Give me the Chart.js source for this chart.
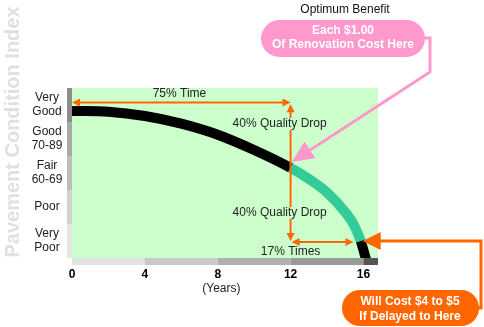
<!DOCTYPE html>
<html>
<head>
<meta charset="utf-8">
<script src="https://cdn.jsdelivr.net/npm/chart.js@4"></script>
<style>
  html, body { margin: 0; padding: 0; background: #fff; }
  #wrap { width: 484px; height: 327px; position: relative; }
</style>
</head>
<body>
<div id="wrap"><canvas id="pciChart" width="484" height="327"></canvas></div>
<script>
// pavement deterioration curve (age in years vs condition index)
var years = [0, 2, 4, 6, 8, 10, 12, 13, 14, 15, 15.5, 15.85, 16.2];
var condition = [86.5, 86, 83.5, 79, 72.5, 63.5, 53, 46.5, 38.5, 27, 19, 10, -3];

var xTicks = [0, 4, 8, 12, 16];
var bandLabels = [['Very', 'Good'], ['Good', '70-89'], ['Fair', '60-69'], ['Poor'], ['Very', 'Poor']];
var bandColors = ['#8c8c8c', '#a9a9a9', '#bdbdbd', '#d2d2d2', '#e6e6e6'];
var yearBandColors = ['#e2e2e2', '#c9c9c9', '#b0b0b0', '#999999', '#555555'];

var ORANGE = '#ff6600';
var PINK = '#ff99cc';
var TEAL = '#33cc99';
var FONT = '"Liberation Sans", Arial, sans-serif';

function arrowHead(ctx, x, y, angle, len, half, color) {
    ctx.save();
    ctx.translate(x, y);
    ctx.rotate(angle);
    ctx.fillStyle = color;
    ctx.beginPath();
    ctx.moveTo(0, 0);
    ctx.lineTo(-len, -half);
    ctx.lineTo(-len, half);
    ctx.closePath();
    ctx.fill();
    ctx.restore();
}

function pill(ctx, x, y, w, h, color) {
    var r = h / 2;
    ctx.fillStyle = color;
    ctx.beginPath();
    ctx.moveTo(x + r, y);
    ctx.lineTo(x + w - r, y);
    ctx.arc(x + w - r, y + r, r, -Math.PI / 2, Math.PI / 2);
    ctx.lineTo(x + r, y + h);
    ctx.arc(x + r, y + r, r, Math.PI / 2, Math.PI * 1.5);
    ctx.closePath();
    ctx.fill();
}

// green field plus the grey band strips along both axes
var backdrop = {
    id: 'backdrop',
    beforeDatasetsDraw: function(chart) {
        var ctx = chart.ctx, a = chart.chartArea;
        var xs = chart.scales.x, ys = chart.scales.y;
        ctx.save();
        ctx.fillStyle = '#ccffcc';
        ctx.fillRect(a.left, a.top, a.right - a.left, a.bottom - a.top);

        // condition bands on the left
        for (var i = 0; i < 5; i++) {
            var top = ys.getPixelForValue(100 - i * 20);
            var bot = ys.getPixelForValue(80 - i * 20);
            ctx.fillStyle = bandColors[i];
            ctx.fillRect(a.left - 5, top, 5, bot - top);
        }
        // year bands along the bottom
        var edges = [0, 4, 8, 12, 16, xs.max];
        for (var j = 0; j < 5; j++) {
            var l = xs.getPixelForValue(edges[j]);
            var r = xs.getPixelForValue(edges[j + 1]);
            ctx.fillStyle = yearBandColors[j];
            ctx.fillRect(l, a.bottom, r - l, 7);
        }
        ctx.restore();
    }
};

var notes = {
    id: 'notes',
    afterDatasetsDraw: function(chart) {
        var ctx = chart.ctx, a = chart.chartArea;
        var xs = chart.scales.x, ys = chart.scales.y;
        var X = function(v) { return xs.getPixelForValue(v); };
        var Y = function(v) { return ys.getPixelForValue(v); };
        ctx.save();

        // axis labels
        ctx.font = '12px ' + FONT;
        ctx.fillStyle = '#222';
        ctx.textAlign = 'center';
        ctx.textBaseline = 'middle';
        bandLabels.forEach(function(lines, i) {
            var cy = (Y(100 - i * 20) + Y(80 - i * 20)) / 2;
            var start = cy - (lines.length - 1) * 7;
            lines.forEach(function(t, k) { ctx.fillText(t, 47, start + k * 14); });
        });
        ctx.font = 'bold 12px ' + FONT;
        ctx.fillStyle = '#000';
        xTicks.forEach(function(t) { ctx.fillText(String(t), X(t), a.bottom + 17); });
        ctx.font = '12px ' + FONT;
        ctx.fillStyle = '#222';
        ctx.fillText('(Years)', X(8.2), a.bottom + 31);

        ctx.save();
        ctx.translate(13, 132);
        ctx.rotate(-Math.PI / 2);
        ctx.font = 'bold 20px ' + FONT;
        ctx.fillStyle = '#e0e0e0';
        ctx.fillText('Pavement Condition Index', 0, 0);
        ctx.restore();

        // orange measuring arrows
        var x12 = X(12);
        ctx.strokeStyle = ORANGE;
        ctx.lineWidth = 2;
        ctx.beginPath();
        ctx.moveTo(X(0) + 4, Y(91.5));
        ctx.lineTo(x12 - 4, Y(91.5));
        ctx.moveTo(x12, Y(88.5));
        ctx.lineTo(x12, Y(11.5));
        ctx.moveTo(x12 + 4, Y(9.4));
        ctx.lineTo(X(15.45) - 4, Y(9.4));
        ctx.stroke();
        arrowHead(ctx, X(0), Y(91.5), Math.PI, 8, 4, ORANGE);
        arrowHead(ctx, x12, Y(91.5), 0, 8, 4, ORANGE);
        arrowHead(ctx, x12, Y(90.5), -Math.PI / 2, 8, 4, ORANGE);
        arrowHead(ctx, x12, Y(10), Math.PI / 2, 8, 4, ORANGE);
        arrowHead(ctx, x12 + 1, Y(9.4), Math.PI, 8, 4, ORANGE);
        arrowHead(ctx, X(15.45), Y(9.4), 0, 8, 4, ORANGE);

        ctx.font = '12px ' + FONT;
        ctx.fillStyle = '#222';
        ctx.fillText('75% Time', X(5.9), Y(96.6));
        ctx.fillText('17% Times', X(12), Y(4));
        [78.8, 26.5].forEach(function(v) {
            var w = ctx.measureText('40% Quality Drop').width;
            ctx.fillStyle = '#ccffcc';
            ctx.fillRect(X(11.4) - w / 2 - 1, Y(v) - 6, w + 2, 12);
            ctx.fillStyle = '#222';
            ctx.fillText('40% Quality Drop', X(11.4), Y(v));
        });

        // pink callout: best time to renovate
        var tipX = X(12) + 1, tipY = Y(56.5);
        ctx.strokeStyle = PINK;
        ctx.lineWidth = 3;
        ctx.beginPath();
        ctx.moveTo(420, 38);
        ctx.lineTo(430, 38);
        ctx.lineTo(430, 72);
        ctx.lineTo(tipX + 14, tipY - 9);
        ctx.stroke();
        var ang = Math.atan2(tipY - 72, tipX - 430);
        arrowHead(ctx, tipX, tipY, ang, 22, 10, PINK);

        pill(ctx, 261, 20, 164, 37, PINK);
        ctx.fillStyle = '#fff';
        ctx.font = 'bold 12px ' + FONT;
        ctx.fillText('Each $1.00', 343, 31);
        ctx.fillText('Of Renovation Cost Here', 343, 45);
        ctx.fillStyle = '#111';
        ctx.font = '12px ' + FONT;
        ctx.fillText('Optimum Benefit', 345, 10);

        // orange callout: cost of waiting
        var ex = X(years[11]) + 2, ey = Y(condition[11]);
        ctx.strokeStyle = ORANGE;
        ctx.lineWidth = 3;
        ctx.beginPath();
        ctx.moveTo(ex + 15, ey);
        ctx.lineTo(481, ey);
        ctx.lineTo(481, 308);
        ctx.lineTo(472, 308);
        ctx.stroke();
        arrowHead(ctx, ex, ey, Math.PI, 18, 9, ORANGE);

        pill(ctx, 342, 290, 137, 36, ORANGE);
        ctx.fillStyle = '#fff';
        ctx.font = 'bold 12px ' + FONT;
        ctx.fillText('Will Cost $4 to $5', 410, 302);
        ctx.fillText('If Delayed to Here', 410, 317);

        ctx.restore();
    }
};

var ctx = document.getElementById('pciChart').getContext('2d');
var chart = new Chart(ctx, {
    type: 'line',
    data: {
        datasets: [{
            data: years.map(function(x, i) { return { x: x, y: condition[i] }; }),
            borderColor: '#000',
            borderWidth: 10,
            borderCapStyle: 'butt',
            pointRadius: 0,
            cubicInterpolationMode: 'monotone',
            segment: {
                borderColor: function(c) {
                    return (c.p0.parsed.x >= 12 && c.p1.parsed.x <= 15.85) ? TEAL : '#000';
                }
            }
        }]
    },
    options: {
        responsive: false,
        animation: false,
        layout: { padding: { left: 72, top: 88, right: 106, bottom: 69 } },
        plugins: { legend: { display: false }, tooltip: { enabled: false } },
        scales: {
            x: { type: 'linear', min: 0, max: 16.8, display: false },
            y: { min: 0, max: 100, display: false }
        }
    },
    plugins: [backdrop, notes]
});
</script>
</body>
</html>
